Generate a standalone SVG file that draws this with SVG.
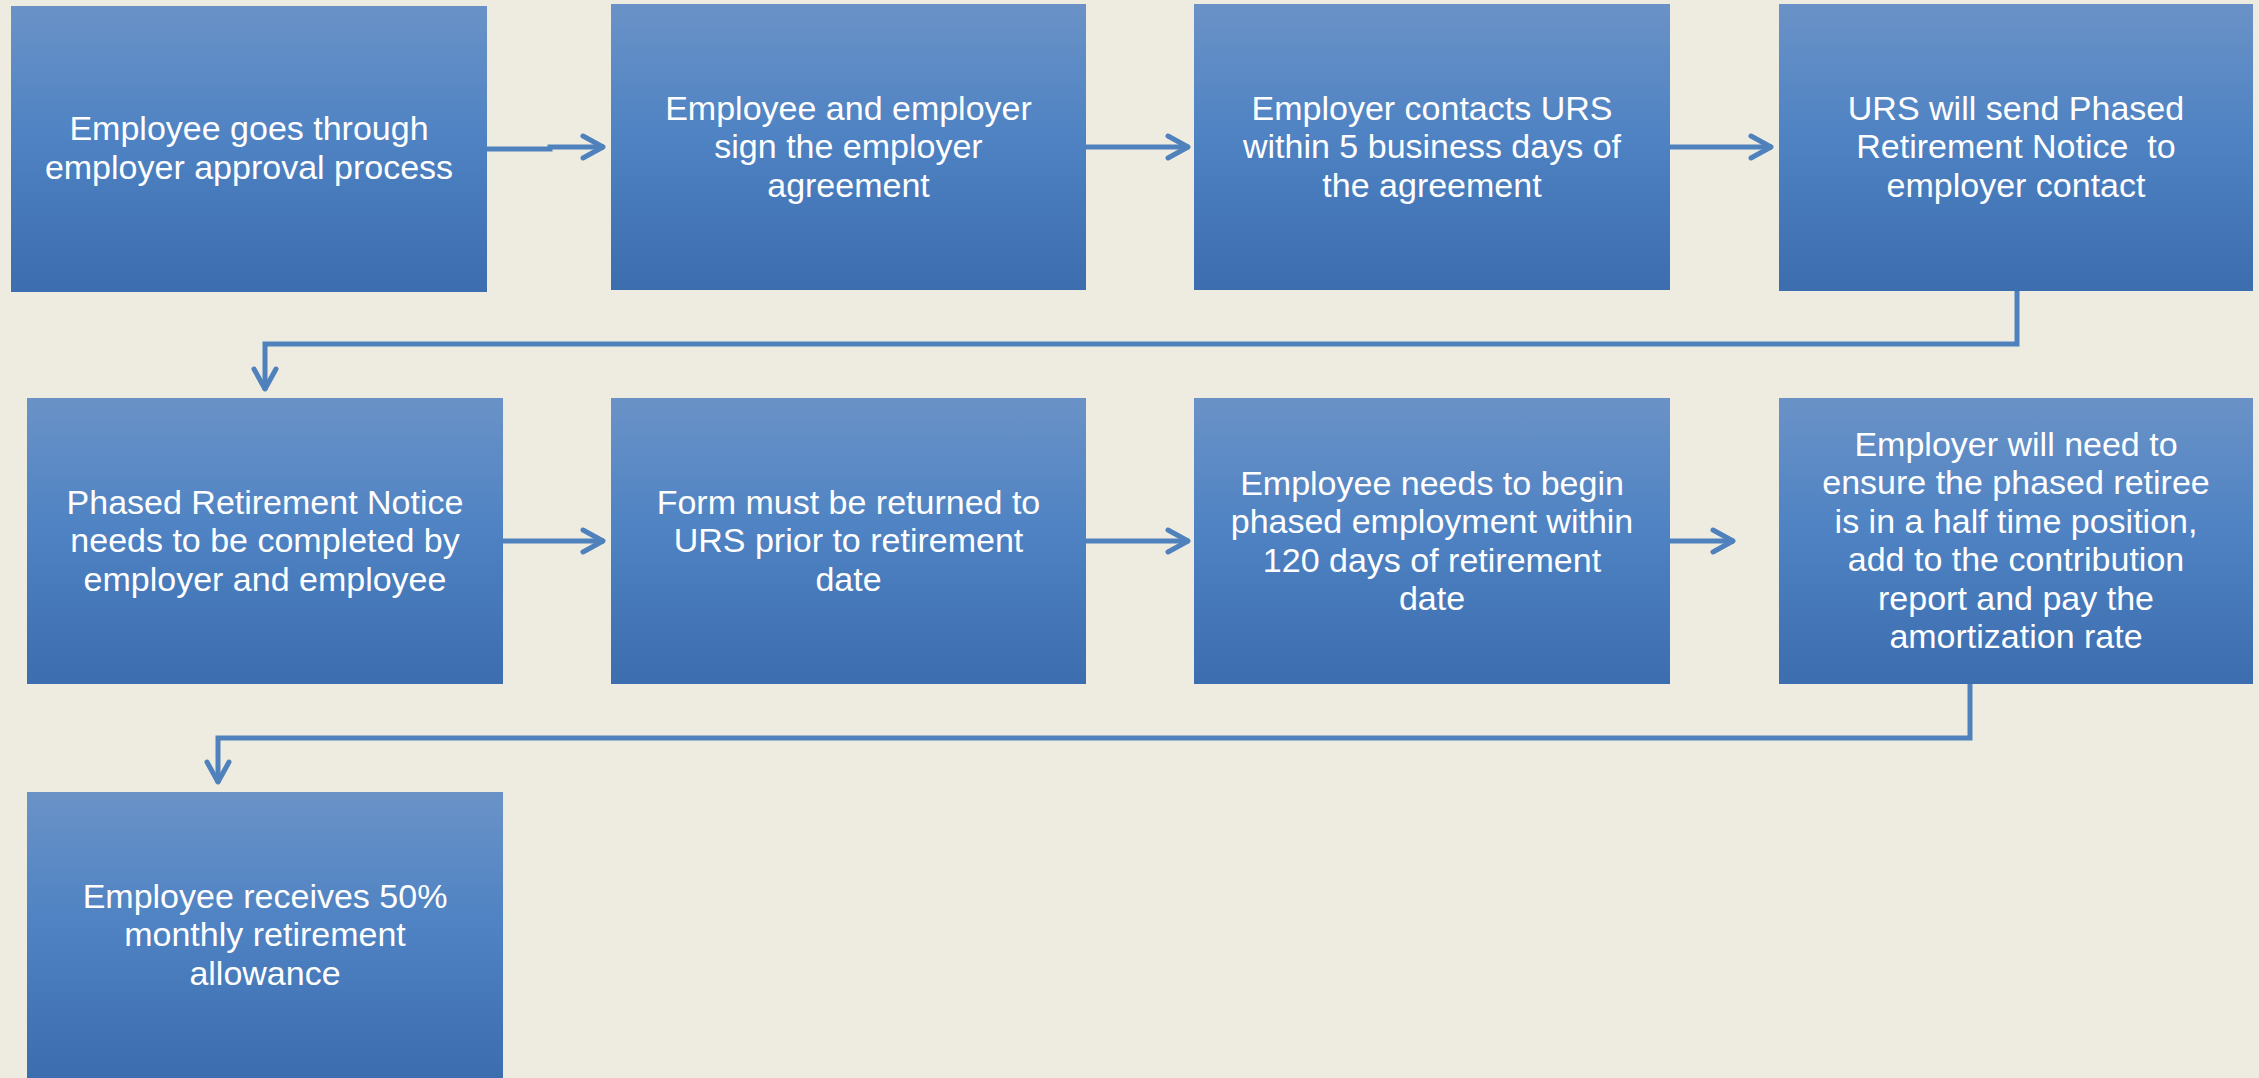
<svg xmlns="http://www.w3.org/2000/svg" width="2259" height="1078" viewBox="0 0 2259 1078">
<defs>
<linearGradient id="boxg" x1="0" y1="0" x2="0" y2="1">
<stop offset="0" stop-color="#6A92C7"/>
<stop offset="0.45" stop-color="#4F83C3"/>
<stop offset="1" stop-color="#3C6DAF"/>
</linearGradient>
<marker id="arr" markerUnits="userSpaceOnUse" viewBox="-30 -20 40 40" markerWidth="40" markerHeight="40" refX="0" refY="0" orient="auto" overflow="visible">
<path d="M-21,-11 L-1,0 L-21,11" fill="none" stroke="#4F81BD" stroke-width="5" stroke-linecap="round" stroke-linejoin="round"/>
</marker>
<style>
.box{fill:url(#boxg);}
.t{font-family:"Liberation Sans",Arial,sans-serif;font-size:34px;fill:#FFFFFF;text-anchor:middle;}
.c{fill:none;stroke:#4F81BD;stroke-width:5;marker-end:url(#arr);}
</style>
</defs>
<rect x="0" y="0" width="2259" height="1078" fill="#EEECE1"/>
<g id="connectors">
<path class="c" d="M487,149 H550 V147 H604"/>
<path class="c" d="M1086,147 H1189"/>
<path class="c" d="M1670,147 H1772"/>
<path class="c" d="M2017,291 V344 H265 V390"/>
<path class="c" d="M503,541 H604"/>
<path class="c" d="M1086,541 H1189"/>
<path class="c" d="M1670,541 H1734"/>
<path class="c" d="M1970,684 V738 H218 V783"/>
</g>
<g id="n1">
<rect class="box" x="11" y="6" width="476" height="286"/>
<text class="t" x="249"><tspan x="249" y="140">Employee goes through</tspan><tspan x="249" y="178.5">employer approval process</tspan></text>
</g>
<g id="n2">
<rect class="box" x="611" y="4" width="475" height="286"/>
<text class="t"><tspan x="848.5" y="119.5">Employee and employer</tspan><tspan x="848.5" y="158">sign the employer</tspan><tspan x="848.5" y="196.5">agreement</tspan></text>
</g>
<g id="n3">
<rect class="box" x="1194" y="4" width="476" height="286"/>
<text class="t"><tspan x="1432" y="119.5">Employer contacts URS</tspan><tspan x="1432" y="158">within 5 business days of</tspan><tspan x="1432" y="196.5">the agreement</tspan></text>
</g>
<g id="n4">
<rect class="box" x="1779" y="4" width="474" height="287"/>
<text class="t" xml:space="preserve"><tspan x="2016" y="119.5">URS will send Phased</tspan><tspan x="2016" y="158">Retirement Notice  to</tspan><tspan x="2016" y="196.5">employer contact</tspan></text>
</g>
<g id="n5">
<rect class="box" x="27" y="398" width="476" height="286"/>
<text class="t"><tspan x="265" y="513.5">Phased Retirement Notice</tspan><tspan x="265" y="552">needs to be completed by</tspan><tspan x="265" y="590.5">employer and employee</tspan></text>
</g>
<g id="n6">
<rect class="box" x="611" y="398" width="475" height="286"/>
<text class="t"><tspan x="848.5" y="513.5">Form must be returned to</tspan><tspan x="848.5" y="552">URS prior to retirement</tspan><tspan x="848.5" y="590.5">date</tspan></text>
</g>
<g id="n7">
<rect class="box" x="1194" y="398" width="476" height="286"/>
<text class="t"><tspan x="1432" y="494.5">Employee needs to begin</tspan><tspan x="1432" y="533">phased employment within</tspan><tspan x="1432" y="571.5">120 days of retirement</tspan><tspan x="1432" y="610">date</tspan></text>
</g>
<g id="n8">
<rect class="box" x="1779" y="398" width="474" height="286"/>
<text class="t"><tspan x="2016" y="455.5">Employer will need to</tspan><tspan x="2016" y="494">ensure the phased retiree</tspan><tspan x="2016" y="532.5">is in a half time position,</tspan><tspan x="2016" y="571">add to the contribution</tspan><tspan x="2016" y="609.5">report and pay the</tspan><tspan x="2016" y="648">amortization rate</tspan></text>
</g>
<g id="n9">
<rect class="box" x="27" y="792" width="476" height="286"/>
<text class="t"><tspan x="265" y="907.5">Employee receives 50%</tspan><tspan x="265" y="946">monthly retirement</tspan><tspan x="265" y="984.5">allowance</tspan></text>
</g>
</svg>
